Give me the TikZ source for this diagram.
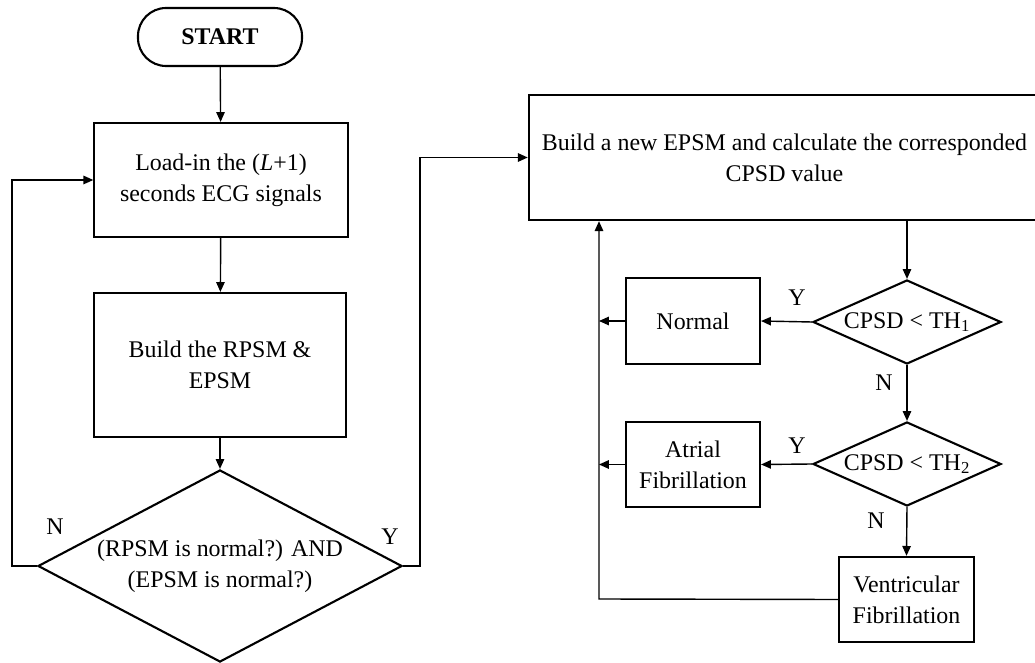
\documentclass[tikz,border=0pt]{standalone}
\usepackage{fontspec}
\setmainfont{Liberation Serif}
\usetikzlibrary{shapes.geometric,arrows.meta}

\begin{document}
\begin{tikzpicture}[x=0.025cm,y=-0.025cm,
  font=\fontsize{17}{22}\selectfont,
  box/.style={draw,line width=1.5pt,align=center,inner sep=0pt},
  test/.style={draw,diamond,line width=1.5pt,align=center,inner sep=0pt},
  arr/.style={line width=1pt,-{Triangle[length=7pt,width=6pt]}}]

\useasboundingbox (0,0) rectangle (1035,663);

% left column
\node[box,rounded corners=20pt,minimum width=4.1cm,minimum height=1.45cm] (start) at (220,37) {\textbf{START}};
\node[box,minimum width=6.33cm,minimum height=2.85cm] (load) at (221,180) {Load-in the (\textit{L}+1)\\seconds ECG signals};
\node[box,minimum width=6.28cm,minimum height=3.6cm] (rpsm) at (220,365) {Build the RPSM \&\\EPSM};
\node[test,aspect=1.9,minimum width=9.1cm,minimum height=4.8cm] (check) at (220,566) {(RPSM is normal?) AND\\(EPSM is normal?)};

% right column
\node[box,minimum width=12.78cm,minimum height=3.13cm] (epsm) at (784.5,157.5) {Build a new EPSM and calculate the corresponded\\CPSD value};
\node[test,aspect=2.24,minimum width=4.7cm,minimum height=2.1cm] (th1) at (907,322) {CPSD < TH\textsubscript{1}};
\node[test,aspect=2.24,minimum width=4.7cm,minimum height=2.1cm] (th2) at (907,464) {CPSD < TH\textsubscript{2}};
\node[box,minimum width=3.35cm,minimum height=2.15cm] (normal) at (693,321) {Normal};
\node[box,minimum width=3.35cm,minimum height=2.13cm] (atrial) at (693,464.5) {Atrial\\Fibrillation};
\node[box,minimum width=3.38cm,minimum height=2.13cm] (vent) at (906.5,599.5) {Ventricular\\Fibrillation};

\coordinate (backl) at (12,566);
\coordinate (backr) at (420,566);
\coordinate (loop) at (599,599);

\draw[arr] (start) -- (load);
\draw[arr] (load) -- (rpsm);
\draw[arr] (rpsm) -- (check);
\draw[arr] (check.west) -- (backl) |- (load.west);
\draw[arr] (check.east) -- (backr) |- (epsm.west);

\draw[arr] (th1.north |- epsm.south) -- (th1.north);
\draw[arr] (th1.west) -- (normal.east);
\draw[arr] (th1.south) -- (th2.north);
\draw[arr] (th2.west) -- (atrial.east);
\draw[arr] (th2.south) -- (vent.north);
\draw[arr] (normal.west) -- (normal.west -| loop);
\draw[arr] (atrial.west) -- (atrial.west -| loop);
\draw[arr] (vent.west) -- (loop) -- (loop |- epsm.south);

% branch labels
\node (n0) at (55,527) {N};
\node (y0) at (390,537) {Y};
\node (y1) at (797,298) {Y};
\node (n1) at (884,383) {N};
\node (y2) at (797,446) {Y};
\node (n2) at (876,521) {N};

\end{tikzpicture}
\end{document}
